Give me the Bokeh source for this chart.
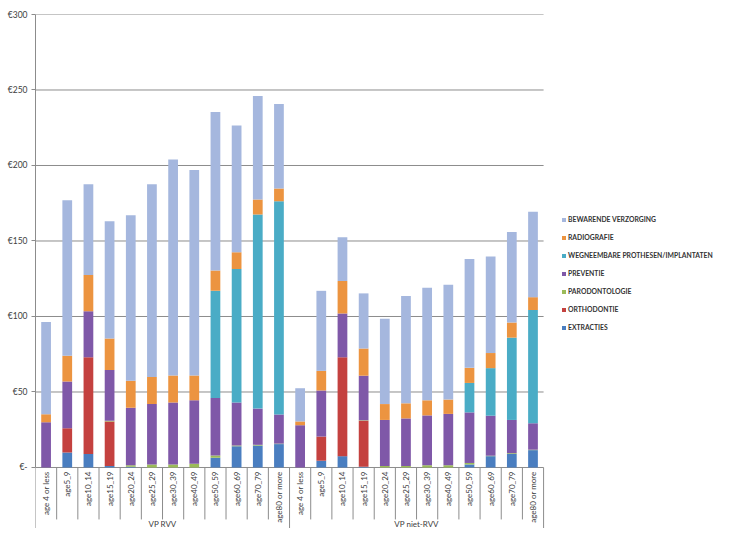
import math
from bokeh.plotting import figure
from bokeh.models import Range1d, FixedTicker, Legend, LegendItem, ColumnDataSource
from bokeh.core.properties import value
from bokeh.embed import file_html
from bokeh.resources import INLINE

groups = ["VP RVV", "VP niet-RVV"]
ages = ["age 4 or less", "age5_9", "age10_14", "age15_19", "age20_24", "age25_29",
        "age30_39", "age40_49", "age50_59", "age60_69", "age70_79", "age80 or more"]

# stacking order, bottom to top
series = ["EXTRACTIES", "ORTHODONTIE", "PARODONTOLOGIE", "PREVENTIE",
          "WEGNEEMBARE PROTHESEN/IMPLANTATEN", "RADIOGRAFIE", "BEWARENDE VERZORGING"]
colors = ["#4A7EC0", "#C4413F", "#9BBB59", "#7F58A8", "#4AACC6", "#EC9440", "#A5B7DE"]

extracties = [0, 10, 9, 1, 0.5, 0, 0, 0, 6.5, 14, 14.5, 15.5,
              0, 4.5, 7.5, 0.5, 0, 0, 0, 0, 2, 7.5, 9, 11.5]
orthodontie = [0, 16, 64, 29.5, 0, 0, 0, 0, 0, 0, 0, 0,
               0, 16, 65.5, 30.5, 0, 0, 0, 0, 0, 0, 0, 0]
parodontologie = [0, 0, 0, 0.5, 1, 2, 2, 2.5, 1.5, 0.5, 0.5, 0.3,
                  0, 0, 0, 0.3, 1, 1, 1.5, 1.5, 1, 0.3, 0.5, 0.3]
preventie = [30, 31, 30.5, 33.5, 38, 40, 41, 42, 38, 28.5, 24, 19.3,
             28, 30.5, 29, 29.5, 30.5, 31.5, 33, 34, 33.5, 26.5, 22, 17.5]
wegneembare = [0, 0, 0, 0, 0, 0, 0, 0, 71, 88.5, 128.5, 141.3,
               0, 0, 0, 0, 0, 0, 0, 0, 19.5, 31.5, 54.5, 75]
radiografie = [5.3, 17, 24, 21, 18, 18, 18, 16.5, 13.5, 11, 10, 8.4,
               2.5, 13, 21.5, 18, 10.5, 10, 10, 9.5, 10, 10, 10, 8.5]
bewarende = [61, 103, 60, 77.5, 109.5, 127.5, 143, 136, 105, 84, 68.5, 56,
             22, 53, 29, 36.5, 56.5, 71, 74.5, 76, 72, 64, 60, 56.5]

values = [extracties, orthodontie, parodontologie, preventie,
          wegneembare, radiografie, bewarende]

y_ticks = [0, 50, 100, 150, 200, 250, 300]
y_labels = ["€-", "€50", "€100", "€150", "€200", "€250", "€300"]

FONT = "Lato"
TXT = "#404040"
GRID = "#8C8C8C"

n_age = len(ages)
n = len(groups) * n_age
xs = list(range(n))
data = {"x": xs}
for name, vals in zip(series, values):
    data[name] = vals
src = ColumnDataSource(data)

# frame: x 35..714, y 14..528 ; 300 units = 453 px, one category = 21.17 px
Y_BOTTOM = -40.4
X_RIGHT = -0.5 + 679 / 21.17
p = figure(width=714, height=528, output_backend="svg", toolbar_location=None,
           x_range=Range1d(-0.5, X_RIGHT), y_range=Range1d(Y_BOTTOM, 300),
           min_border_left=35, min_border_top=14, min_border_right=0,
           min_border_bottom=0)
p.xaxis.visible = False
p.xgrid.visible = False
p.ygrid.visible = False
p.outline_line_color = None

# horizontal grid lines at the y ticks, over the category span only
p.segment(x0=[-0.5] * len(y_ticks), x1=[n - 0.5] * len(y_ticks), y0=y_ticks, y1=y_ticks,
          line_color=GRID, line_width=1)

renderers = p.vbar_stack(series, x="x", width=0.46, color=colors, line_color=None,
                         source=src)

# category separators
bounds = [i - 0.5 for i in range(n + 1)]
inner = [b for k, b in enumerate(bounds) if k % n_age != 0]
outer = [b for k, b in enumerate(bounds) if k % n_age == 0]
p.segment(x0=inner, x1=inner, y0=[0] * len(inner), y1=[-34.4] * len(inner),
          line_color=GRID, line_width=1)
p.segment(x0=outer, x1=outer, y0=[0] * len(outer), y1=[Y_BOTTOM] * len(outer),
          line_color=GRID, line_width=1)

# category labels (vertical)
p.text(x=xs, y=[0] * n, text=ages + ages, angle=math.pi / 2, y_offset=4,
       text_align="right", text_baseline="middle", text_font=value(FONT),
       text_font_size="8px", text_color=TXT)

# group labels
gx = [g * n_age + (n_age - 1) / 2 for g in range(len(groups))]
p.text(x=gx, y=[0] * len(groups), text=groups, y_offset=57,
       text_align="center", text_baseline="middle", text_font=value(FONT),
       text_font_size="8px", text_color=TXT)

# y axis
ya = p.yaxis[0]
ya.bounds = (0, 300)
ya.ticker = FixedTicker(ticks=y_ticks)
ya.major_label_overrides = {t: l for t, l in zip(y_ticks, y_labels)}
ya.major_tick_out = 4
ya.major_tick_in = 0
ya.minor_tick_out = 0
ya.minor_tick_in = 0
ya.axis_line_color = GRID
ya.major_tick_line_color = GRID
ya.major_label_standoff = 4
ya.major_label_text_font = FONT
ya.major_label_text_font_size = "8.5px"
ya.major_label_text_color = TXT

items = [LegendItem(label=s, renderers=[r]) for s, r in zip(series, renderers)][::-1]
legend = Legend(items=items, location=(526, 196))
legend.margin = 0
legend.padding = 0
legend.border_line_color = None
legend.background_fill_alpha = 0
legend.glyph_width = 5
legend.glyph_height = 5
legend.label_standoff = 2
legend.label_height = 10
legend.spacing = 8
legend.label_text_font = FONT
legend.label_text_font_size = "6.8px"
legend.label_text_font_style = "bold"
legend.label_text_color = "#333333"
p.add_layout(legend)

open("out.html", "w").write(file_html(p, INLINE))
